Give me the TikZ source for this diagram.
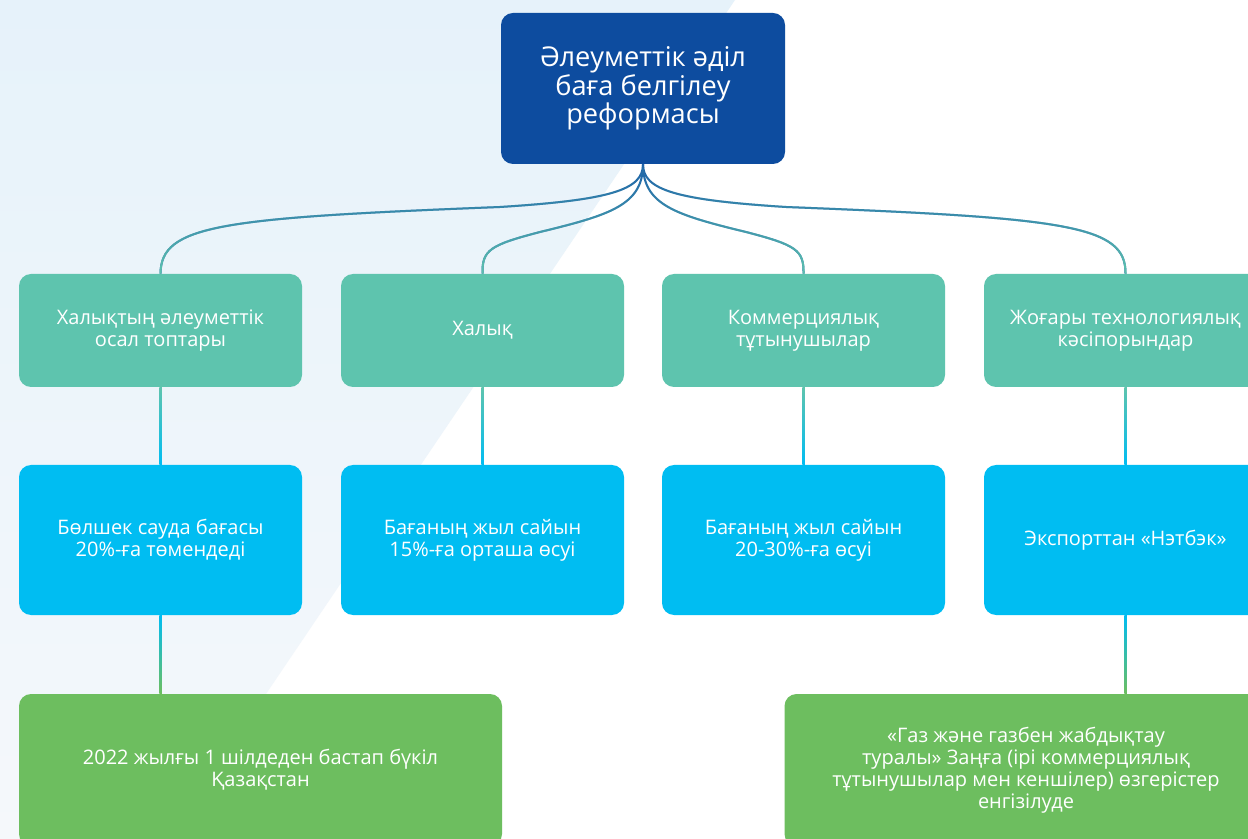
\documentclass[tikz,border=0pt]{standalone}
\usepackage{fontspec}
\setmainfont{Open Sans}
\usetikzlibrary{fadings,calc}
\definecolor{bgtop}{HTML}{E6F2FA}
\definecolor{bgbot}{HTML}{F5F8FB}
\definecolor{topblue}{HTML}{0D4C9F}
\definecolor{tealc}{HTML}{5EC4AE}
\definecolor{cyanc}{HTML}{00BDF2}
\definecolor{greenc}{HTML}{6DBE5F}
\definecolor{curveblue}{HTML}{1C5FA8}
\tikzfading[name=tealfade, top color=transparent!100, bottom color=transparent!0]
\begin{document}
\begin{tikzpicture}[x=0.5pt,y=-0.5pt,
  box/.style={rounded corners=6pt, align=center, text=white, inner sep=0pt, anchor=center},
  topbox/.style={box, fill=topblue, minimum width=142pt, minimum height=75.5pt,
     font=\fontsize{13.6}{14.3}\selectfont},
  tealbox/.style={box, fill=tealc, minimum width=141.5pt, minimum height=56.5pt,
     font=\fontsize{10}{11}\selectfont},
  cyanbox/.style={box, fill=cyanc, minimum width=141.5pt, minimum height=75pt,
     font=\fontsize{10}{11}\selectfont},
  greenbox/.style={box, fill=greenc, minimum width=241.5pt, minimum height=76pt,
     font=\fontsize{10}{11}\selectfont},
  curvebase/.style={draw=curveblue, line width=1pt},
  curvetop/.style={draw=tealc, line width=1pt, path fading=tealfade}
]
\useasboundingbox (0,0) rectangle (1248,839);
\clip (0,0) rectangle (1248,839);
\fill[white] (0,0) rectangle (1248,839);
\shade[top color=bgtop, bottom color=bgbot] (0,0) -- (735,0) -- (168,839) -- (0,839) -- cycle;

% nodes
\node[topbox] (top) at (643,88.5) {Әлеуметтік әділ\\баға белгілеу\\реформасы};

\node[tealbox] (t1) at (160.5,330.5) {Халықтың әлеуметтік\\осал топтары};
\node[tealbox] (t2) at (482.5,330.5) {Халық};
\node[tealbox] (t3) at (803.5,330.5) {Коммерциялық\\тұтынушылар};
\node[tealbox] (t4) at (1125.5,330.5) {Жоғары технологиялық\\кәсіпорындар};

\node[cyanbox] (c1) at (160.5,540) {Бөлшек сауда бағасы\\20\%-ға төмендеді};
\node[cyanbox] (c2) at (482.5,540) {Бағаның жыл сайын\\15\%-ға орташа өсуі};
\node[cyanbox] (c3) at (803.5,540) {Бағаның жыл сайын\\20-30\%-ға өсуі};
\node[cyanbox] (c4) at (1125.5,540) {Экспорттан «Нэтбэк»};

\node[greenbox] (g1) at (260.5,770) {2022 жылғы 1 шілдеден бастап бүкіл\\Қазақстан};
\node[greenbox] (g2) at (1026,770) {«Газ және газбен жабдықтау\\туралы» Заңға (ірі коммерциялық\\тұтынушылар мен кеншілер) өзгерістер\\енгізілуде};

% curved connectors from the top box
\foreach \sty in {curvebase,curvetop}{
  \path[\sty] (top.south) .. controls (643,190) and (610,200) .. (500,207)
        .. controls (220,218) and (161,225) .. (t1.north);
  \path[\sty] (top.south) .. controls (643,205) and (610,215) .. (540,232)
        .. controls (490,245) and (482,250) .. (t2.north);
  \path[\sty] (top.south) .. controls (643,205) and (676,215) .. (746,232)
        .. controls (796,245) and (804,250) .. (t3.north);
  \path[\sty] (top.south) .. controls (643,190) and (676,200) .. (786,207)
        .. controls (1066,218) and (1126,225) .. (t4.north);
}

% vertical connectors
\shade[top color=tealc, bottom color=cyanc] ($(t1.south)+(-1.25,0)$) rectangle ($(c1.north)+(1.25,0)$);
\shade[top color=tealc, bottom color=cyanc] ($(t2.south)+(-1.25,0)$) rectangle ($(c2.north)+(1.25,0)$);
\shade[top color=tealc, bottom color=cyanc] ($(t3.south)+(-1.25,0)$) rectangle ($(c3.north)+(1.25,0)$);
\shade[top color=tealc, bottom color=cyanc] ($(t4.south)+(-1.25,0)$) rectangle ($(c4.north)+(1.25,0)$);
\shade[top color=cyanc, bottom color=greenc] ($(c1.south)+(-1.25,0)$) rectangle ($(c1.south |- g1.north)+(1.25,0)$);
\shade[top color=cyanc, bottom color=greenc] ($(c4.south)+(-1.25,0)$) rectangle ($(c4.south |- g2.north)+(1.25,0)$);
\end{tikzpicture}
\end{document}
